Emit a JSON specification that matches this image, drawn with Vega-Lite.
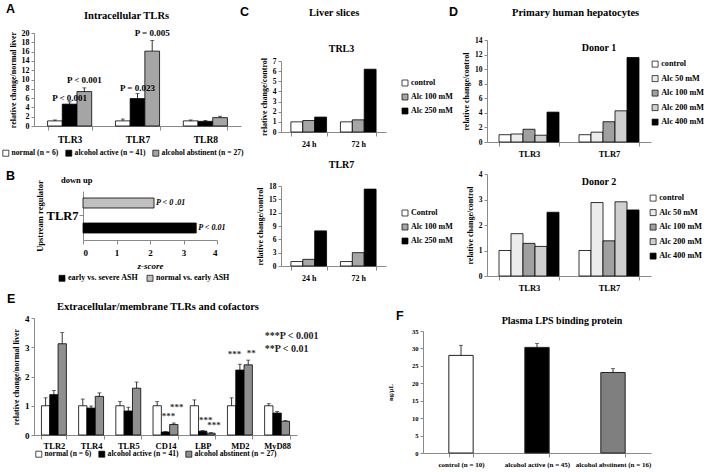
{
  "$schema": "https://vega.github.io/schema/vega-lite/v6.json",
  "background": "white",
  "padding": {"left": 2, "top": 2, "right": 2, "bottom": 2},
  "spacing": 0,
  "resolve": {"scale": {"fill": "independent", "xOffset": "independent", "yOffset": "independent"}, "legend": {"fill": "independent"}},
  "vconcat": [
    {
      "spacing": -4,
      "resolve": {"scale": {"fill": "independent", "xOffset": "independent", "yOffset": "independent"}, "legend": {"fill": "independent"}},
      "hconcat": [
        {
          "spacing": 0,
          "resolve": {"scale": {"fill": "independent", "xOffset": "independent", "yOffset": "independent"}, "legend": {"fill": "independent"}},
          "vconcat": [
            {"width": 1, "height": 1, "data": {"values": []}, "mark": "point"},
            {
              "spacing": 11,
              "resolve": {"scale": {"fill": "independent", "xOffset": "independent", "yOffset": "independent"}, "legend": {"fill": "independent"}},
              "vconcat": [
                {
                  "title": {"text": "A", "anchor": "start", "frame": "group", "dx": -28, "font": "Liberation Sans", "fontSize": 12.5, "fontWeight": "bold", "offset": -5},
                  "resolve": {"scale": {"fill": "independent", "xOffset": "independent", "yOffset": "independent"}, "legend": {"fill": "independent"}},
                  "vconcat": [
                    {
                      "width": 207, "height": 93,
                      "title": {"text": "Intracellular TLRs", "fontSize": 10.5, "offset": 8, "frame": "group", "dx": -11},
                      "data": {"values": [
                        {"gene": "TLR3", "grp": "normal (n = 6)", "v": 1.1, "e": 1.3},
                        {"gene": "TLR3", "grp": "alcohol active (n = 41)", "v": 4.7, "e": 5.2},
                        {"gene": "TLR3", "grp": "alcohol abstinent (n = 27)", "v": 7.4, "e": 8.2},
                        {"gene": "TLR7", "grp": "normal (n = 6)", "v": 1.1, "e": 1.5},
                        {"gene": "TLR7", "grp": "alcohol active (n = 41)", "v": 5.9, "e": 7.0},
                        {"gene": "TLR7", "grp": "alcohol abstinent (n = 27)", "v": 16.1, "e": 18.4},
                        {"gene": "TLR8", "grp": "normal (n = 6)", "v": 1.1, "e": 1.3},
                        {"gene": "TLR8", "grp": "alcohol active (n = 41)", "v": 1.0, "e": 1.2},
                        {"gene": "TLR8", "grp": "alcohol abstinent (n = 27)", "v": 1.8, "e": 2.1}
                      ]},
                      "encoding": {
                        "x": {"field": "gene", "type": "nominal", "sort": null, "title": null, "scale": {"paddingInner": 0.35, "paddingOuter": 0.2}, "axis": {"labelFontSize": 9.5, "labelPadding": 4}},
                        "xOffset": {"field": "grp", "type": "nominal", "scale": {"domain": ["normal (n = 6)", "alcohol active (n = 41)", "alcohol abstinent (n = 27)"]}}
                      },
                      "layer": [
                        {
                          "mark": {"type": "bar", "stroke": "black", "strokeWidth": 0.8},
                          "encoding": {
                            "y": {"field": "v", "type": "quantitative", "scale": {"domain": [0, 20]}, "axis": {"values": [0, 2, 4, 6, 8, 10, 12, 14, 16, 18, 20], "title": "relative change/normal liver"}},
                            "fill": {"field": "grp", "type": "nominal", "scale": {"domain": ["normal (n = 6)", "alcohol active (n = 41)", "alcohol abstinent (n = 27)"], "range": ["white", "black", "#a5a5a5"]},
                              "legend": {"title": null, "orient": "none", "legendX": -32, "legendY": 116, "direction": "horizontal", "columns": 3, "columnPadding": 5, "labelOffset": 2, "labelFontSize": 7.6}}
                          }
                        },
                        {"mark": {"type": "rule", "color": "black", "strokeWidth": 0.8}, "encoding": {"y": {"field": "v", "type": "quantitative", "scale": {"domain": [0, 20]}, "axis": {"values": [0, 2, 4, 6, 8, 10, 12, 14, 16, 18, 20], "title": "relative change/normal liver"}}, "y2": {"field": "e"}}},
                        {"mark": {"type": "tick", "orient": "horizontal", "color": "black", "size": 4, "thickness": 0.8}, "encoding": {"y": {"field": "e", "type": "quantitative", "scale": {"domain": [0, 20]}, "axis": {"values": [0, 2, 4, 6, 8, 10, 12, 14, 16, 18, 20], "title": "relative change/normal liver"}}}},
                        {
                          "data": {"values": [
                            {"gene": "TLR3", "grp": "alcohol active (n = 41)", "ly": 6.1, "t": "P < 0.001"},
                            {"gene": "TLR3", "grp": "alcohol abstinent (n = 27)", "ly": 9.9, "t": "P < 0.001"},
                            {"gene": "TLR7", "grp": "alcohol active (n = 41)", "ly": 8.2, "t": "P = 0.023"},
                            {"gene": "TLR7", "grp": "alcohol abstinent (n = 27)", "ly": 19.9, "t": "P = 0.005"}
                          ]},
                          "mark": {"type": "text", "fontSize": 9, "fontWeight": "bold", "font": "Liberation Serif", "baseline": "middle"},
                          "encoding": {"y": {"field": "ly", "type": "quantitative", "scale": {"domain": [0, 20]}, "axis": {"values": [0, 2, 4, 6, 8, 10, 12, 14, 16, 18, 20], "title": "relative change/normal liver"}}, "text": {"field": "t"}}
                        }
                      ]
                    }
                  ]
                },
                {
                  "title": {"text": "B", "anchor": "start", "frame": "group", "dx": -28, "font": "Liberation Sans", "fontSize": 12.5, "fontWeight": "bold", "offset": -6},
                  "spacing": 0,
                  "resolve": {"scale": {"fill": "independent", "xOffset": "independent", "yOffset": "independent"}, "legend": {"fill": "independent"}},
                  "hconcat": [
                    {"width": 1, "height": 1, "data": {"values": []}, "mark": "point"},
                    {
                      "width": 134, "height": 49,
                      "title": {"text": "down    up", "anchor": "start", "frame": "group", "dx": -22, "fontSize": 8.5, "offset": -5},
                      "data": {"values": [
                        {"reg": "TLR7", "cmp": "normal vs. early ASH", "z": 2.12, "p": "P < 0 .01"},
                        {"reg": "TLR7", "cmp": "early vs. severe ASH", "z": 3.38, "p": "P < 0.01"}
                      ]},
                      "encoding": {
                        "y": {"field": "reg", "type": "nominal", "title": "Upstream regulator", "scale": {"paddingInner": 0, "paddingOuter": 0}, "axis": {"labelFontSize": 12.5, "tickBand": "center", "labelPadding": 1, "titlePadding": 2, "titleFontSize": 8.5}},
                        "yOffset": {"field": "cmp", "type": "nominal", "scale": {"domain": ["normal vs. early ASH", "early vs. severe ASH"], "paddingInner": 0.6, "paddingOuter": 0.28}},
                        "x": {"field": "z", "type": "quantitative", "scale": {"domain": [0, 4]}, "axis": {"values": [0, 1, 2, 3, 4], "title": "z-score", "titleFontStyle": "italic", "titleFontSize": 9, "labelFontSize": 9, "tickSize": 4, "labelPadding": 4}}
                      },
                      "layer": [
                        {
                          "mark": {"type": "bar", "stroke": "black", "strokeWidth": 0.8},
                          "encoding": {"fill": {"field": "cmp", "type": "nominal", "scale": {"domain": ["early vs. severe ASH", "normal vs. early ASH"], "range": ["black", "#c0c0c0"]},
                            "legend": {"title": null, "orient": "none", "legendX": -25, "legendY": 83, "direction": "horizontal", "columns": 2, "columnPadding": 6, "labelOffset": 2, "labelFontSize": 8}}}
                        },
                        {"mark": {"type": "text", "align": "left", "dx": 2, "fontSize": 8, "fontStyle": "italic", "fontWeight": "bold", "font": "Liberation Serif", "baseline": "middle"}, "encoding": {"text": {"field": "p"}}}
                      ]
                    }
                  ]
                }
              ]
            }
          ]
        },
        {
          "spacing": 3,
          "resolve": {"scale": {"fill": "independent", "xOffset": "independent", "yOffset": "independent"}, "legend": {"fill": "independent"}},
          "vconcat": [
            {"width": 1, "height": 1, "data": {"values": []}, "mark": "point"},
            {
              "title": {"text": "C", "anchor": "start", "frame": "group", "dx": -41, "font": "Liberation Sans", "fontSize": 12.5, "fontWeight": "bold", "offset": -11},
              "resolve": {"scale": {"fill": "independent", "xOffset": "independent", "yOffset": "independent"}, "legend": {"fill": "independent"}},
              "vconcat": [
                {
                  "title": {"text": "Liver slices", "anchor": "start", "frame": "group", "dx": 28, "fontSize": 10.5, "offset": 26},
                  "spacing": 12,
                  "resolve": {"scale": {"fill": "independent", "xOffset": "independent", "yOffset": "independent"}, "legend": {"fill": "independent"}},
                  "vconcat": [
                    {
                      "width": 105, "height": 71,
                      "title": {"text": "TRL3", "fontSize": 10, "offset": 3, "frame": "group", "dx": 8},
                      "data": {"values": [
                        {"t": "24 h", "trt": "control", "v": 1.0},
                        {"t": "24 h", "trt": "Alc 100 mM", "v": 1.13},
                        {"t": "24 h", "trt": "Alc 250 mM", "v": 1.47},
                        {"t": "72 h", "trt": "control", "v": 1.0},
                        {"t": "72 h", "trt": "Alc 100 mM", "v": 1.2},
                        {"t": "72 h", "trt": "Alc 250 mM", "v": 6.19}
                      ]},
                      "mark": {"type": "bar", "stroke": "black", "strokeWidth": 0.8},
                      "encoding": {
                        "x": {"field": "t", "type": "nominal", "sort": null, "title": null, "scale": {"paddingInner": 0.28, "paddingOuter": 0.2}, "axis": {"labelFontSize": 8, "labelPadding": 4}},
                        "xOffset": {"field": "trt", "type": "nominal", "scale": {"domain": ["control", "Alc 100 mM", "Alc 250 mM"]}},
                        "y": {"field": "v", "type": "quantitative", "scale": {"domain": [0, 7]}, "axis": {"values": [0, 1, 2, 3, 4, 5, 6, 7], "title": "relative change/control", "labelFontSize": 7.5}},
                        "fill": {"field": "trt", "type": "nominal", "scale": {"domain": ["control", "Alc 100 mM", "Alc 250 mM"], "range": ["white", "#a6a6a6", "black"]},
                          "legend": {"title": null, "orient": "none", "legendX": 120, "legendY": 18, "rowPadding": 4, "labelFontSize": 8, "labelOffset": 2}}
                      }
                    },
                    {
                      "width": 105, "height": 80,
                      "title": {"text": "TLR7", "fontSize": 10, "offset": 12, "frame": "group", "dx": 8},
                      "data": {"values": [
                        {"t": "24 h", "trt2": "Control", "v": 1.0},
                        {"t": "24 h", "trt2": "Alc 100 mM", "v": 1.5},
                        {"t": "24 h", "trt2": "Alc 250 mM", "v": 7.9},
                        {"t": "72 h", "trt2": "Control", "v": 1.0},
                        {"t": "72 h", "trt2": "Alc 100 mM", "v": 3.0},
                        {"t": "72 h", "trt2": "Alc 250 mM", "v": 17.3}
                      ]},
                      "mark": {"type": "bar", "stroke": "black", "strokeWidth": 0.8},
                      "encoding": {
                        "x": {"field": "t", "type": "nominal", "sort": null, "title": null, "scale": {"paddingInner": 0.28, "paddingOuter": 0.2}, "axis": {"labelFontSize": 8, "labelPadding": 4}},
                        "xOffset": {"field": "trt2", "type": "nominal", "scale": {"domain": ["Control", "Alc 100 mM", "Alc 250 mM"]}},
                        "y": {"field": "v", "type": "quantitative", "scale": {"domain": [0, 18]}, "axis": {"values": [0, 3, 6, 9, 12, 15, 18], "title": "relative change/control", "labelFontSize": 7.5}},
                        "fill": {"field": "trt2", "type": "nominal", "scale": {"domain": ["Control", "Alc 100 mM", "Alc 250 mM"], "range": ["white", "#a6a6a6", "black"]},
                          "legend": {"title": null, "orient": "none", "legendX": 120, "legendY": 23, "rowPadding": 4, "labelFontSize": 8, "labelOffset": 2}}
                      }
                    }
                  ]
                }
              ]
            }
          ]
        },
        {
          "spacing": 3,
          "resolve": {"scale": {"fill": "independent", "xOffset": "independent", "yOffset": "independent"}, "legend": {"fill": "independent"}},
          "vconcat": [
            {"width": 1, "height": 1, "data": {"values": []}, "mark": "point"},
            {
              "title": {"text": "D", "anchor": "start", "frame": "group", "dx": -38, "font": "Liberation Sans", "fontSize": 12.5, "fontWeight": "bold", "offset": -11},
              "resolve": {"scale": {"fill": "independent", "xOffset": "independent", "yOffset": "independent"}, "legend": {"fill": "independent"}},
              "vconcat": [
                {
                  "title": {"text": "Primary human hepatocytes", "anchor": "start", "frame": "group", "dx": 25, "fontSize": 10.5, "offset": 18},
                  "spacing": 12,
                  "resolve": {"scale": {"fill": "independent", "xOffset": "independent", "yOffset": "independent"}, "legend": {"fill": "independent"}},
                  "vconcat": [
                    {
                      "width": 164, "height": 102,
                      "title": {"text": "Donor 1", "fontSize": 10, "offset": -17, "frame": "group", "dx": 30},
                      "data": {"values": [
                        {"g": "TLR3", "d": "control", "v": 1.0},
                        {"g": "TLR3", "d": "Alc 50 mM", "v": 1.1},
                        {"g": "TLR3", "d": "Alc 100 mM", "v": 1.75},
                        {"g": "TLR3", "d": "Alc 200 mM", "v": 0.93},
                        {"g": "TLR3", "d": "Alc 400 mM", "v": 4.1},
                        {"g": "TLR7", "d": "control", "v": 1.0},
                        {"g": "TLR7", "d": "Alc 50 mM", "v": 1.35},
                        {"g": "TLR7", "d": "Alc 100 mM", "v": 2.78},
                        {"g": "TLR7", "d": "Alc 200 mM", "v": 4.28},
                        {"g": "TLR7", "d": "Alc 400 mM", "v": 11.6}
                      ]},
                      "mark": {"type": "bar", "stroke": "black", "strokeWidth": 0.8},
                      "encoding": {
                        "x": {"field": "g", "type": "nominal", "sort": null, "title": null, "scale": {"paddingInner": 0.25, "paddingOuter": 0.15}, "axis": {"labelFontSize": 8.5, "labelPadding": 3}},
                        "xOffset": {"field": "d", "type": "nominal", "scale": {"domain": ["control", "Alc 50 mM", "Alc 100 mM", "Alc 200 mM", "Alc 400 mM"]}},
                        "y": {"field": "v", "type": "quantitative", "scale": {"domain": [0, 14]}, "axis": {"values": [0, 2, 4, 6, 8, 10, 12, 14], "title": "relative change/control", "labelFontSize": 7.5, "titlePadding": 4}},
                        "fill": {"field": "d", "type": "nominal", "scale": {"domain": ["control", "Alc 50 mM", "Alc 100 mM", "Alc 200 mM", "Alc 400 mM"], "range": ["white", "#ececec", "#a0a0a0", "#cfcfcf", "black"]},
                          "legend": {"title": null, "orient": "none", "legendX": 164, "legendY": 20, "rowPadding": 4.5, "labelFontSize": 8.2, "labelOffset": 2}}
                      }
                    },
                    {
                      "width": 164, "height": 102,
                      "title": {"text": "Donor 2", "fontSize": 10, "offset": -17, "frame": "group", "dx": 30},
                      "data": {"values": [
                        {"g": "TLR3", "d2": "control", "v": 1.0},
                        {"g": "TLR3", "d2": "Alc 50 mM", "v": 1.66},
                        {"g": "TLR3", "d2": "Alc 100 mM", "v": 1.28},
                        {"g": "TLR3", "d2": "Alc 200 mM", "v": 1.16},
                        {"g": "TLR3", "d2": "Alc 400 mM", "v": 2.5},
                        {"g": "TLR7", "d2": "control", "v": 1.0},
                        {"g": "TLR7", "d2": "Alc 50 mM", "v": 2.88},
                        {"g": "TLR7", "d2": "Alc 100 mM", "v": 1.38},
                        {"g": "TLR7", "d2": "Alc 200 mM", "v": 2.91},
                        {"g": "TLR7", "d2": "Alc 400 mM", "v": 2.59}
                      ]},
                      "mark": {"type": "bar", "stroke": "black", "strokeWidth": 0.8},
                      "encoding": {
                        "x": {"field": "g", "type": "nominal", "sort": null, "title": null, "scale": {"paddingInner": 0.25, "paddingOuter": 0.15}, "axis": {"labelFontSize": 8.5, "labelPadding": 3}},
                        "xOffset": {"field": "d2", "type": "nominal", "scale": {"domain": ["control", "Alc 50 mM", "Alc 100 mM", "Alc 200 mM", "Alc 400 mM"]}},
                        "y": {"field": "v", "type": "quantitative", "scale": {"domain": [0, 4]}, "axis": {"values": [0, 1, 2, 3, 4], "title": "relative change/control", "labelFontSize": 7.5, "titlePadding": 4}},
                        "fill": {"field": "d2", "type": "nominal", "scale": {"domain": ["control", "Alc 50 mM", "Alc 100 mM", "Alc 200 mM", "Alc 400 mM"], "range": ["white", "#ececec", "#a0a0a0", "#cfcfcf", "black"]},
                          "legend": {"title": null, "orient": "none", "legendX": 162, "legendY": 20, "rowPadding": 4.5, "labelFontSize": 8.2, "labelOffset": 2}}
                      }
                    }
                  ]
                }
              ]
            }
          ]
        }
      ]
    },
    {
      "spacing": 68,
      "resolve": {"scale": {"fill": "independent", "xOffset": "independent", "yOffset": "independent"}, "legend": {"fill": "independent"}},
      "hconcat": [
        {
          "spacing": 0,
          "resolve": {"scale": {"fill": "independent", "xOffset": "independent", "yOffset": "independent"}, "legend": {"fill": "independent"}},
          "vconcat": [
            {"width": 1, "height": 1, "data": {"values": []}, "mark": "point"},
            {
              "title": {"text": "E", "anchor": "start", "frame": "group", "dx": -27, "font": "Liberation Sans", "fontSize": 12.5, "fontWeight": "bold", "offset": -4},
              "resolve": {"scale": {"fill": "independent", "xOffset": "independent", "yOffset": "independent"}, "legend": {"fill": "independent"}},
              "vconcat": [
                {
                  "width": 263, "height": 117,
                  "title": {"text": "Extracellular/membrane TLRs and cofactors", "anchor": "start", "frame": "group", "dx": 23, "fontSize": 10.5, "offset": 2},
                  "data": {"values": [
                    {"gene": "TLR2", "grp": "normal (n = 6)", "v": 1.0, "e": 1.27},
                    {"gene": "TLR2", "grp": "alcohol active (n = 41)", "v": 1.38, "e": 1.52},
                    {"gene": "TLR2", "grp": "alcohol abstinent (n = 27)", "v": 3.12, "e": 3.5},
                    {"gene": "TLR4", "grp": "normal (n = 6)", "v": 1.0, "e": 1.23},
                    {"gene": "TLR4", "grp": "alcohol active (n = 41)", "v": 0.92, "e": 0.99},
                    {"gene": "TLR4", "grp": "alcohol abstinent (n = 27)", "v": 1.32, "e": 1.44},
                    {"gene": "TLR5", "grp": "normal (n = 6)", "v": 1.0, "e": 1.14},
                    {"gene": "TLR5", "grp": "alcohol active (n = 41)", "v": 0.82, "e": 0.95},
                    {"gene": "TLR5", "grp": "alcohol abstinent (n = 27)", "v": 1.6, "e": 1.81},
                    {"gene": "CD14", "grp": "normal (n = 6)", "v": 1.0, "e": 1.14},
                    {"gene": "CD14", "grp": "alcohol active (n = 41)", "v": 0.1, "e": 0.12},
                    {"gene": "CD14", "grp": "alcohol abstinent (n = 27)", "v": 0.36, "e": 0.41},
                    {"gene": "LBP", "grp": "normal (n = 6)", "v": 1.0, "e": 1.2},
                    {"gene": "LBP", "grp": "alcohol active (n = 41)", "v": 0.13, "e": 0.15},
                    {"gene": "LBP", "grp": "alcohol abstinent (n = 27)", "v": 0.06, "e": 0.08},
                    {"gene": "MD2", "grp": "normal (n = 6)", "v": 1.0, "e": 1.27},
                    {"gene": "MD2", "grp": "alcohol active (n = 41)", "v": 2.22, "e": 2.42},
                    {"gene": "MD2", "grp": "alcohol abstinent (n = 27)", "v": 2.4, "e": 2.56},
                    {"gene": "MyD88", "grp": "normal (n = 6)", "v": 1.0, "e": 1.07},
                    {"gene": "MyD88", "grp": "alcohol active (n = 41)", "v": 0.75, "e": 0.8},
                    {"gene": "MyD88", "grp": "alcohol abstinent (n = 27)", "v": 0.47, "e": 0.5}
                  ]},
                  "encoding": {
                    "x": {"field": "gene", "type": "nominal", "sort": null, "title": null, "scale": {"paddingInner": 0.33, "paddingOuter": 0.2}, "axis": {"labelFontSize": 8.5, "labelPadding": 2}},
                    "xOffset": {"field": "grp", "type": "nominal", "scale": {"domain": ["normal (n = 6)", "alcohol active (n = 41)", "alcohol abstinent (n = 27)"]}}
                  },
                  "layer": [
                    {
                      "mark": {"type": "bar", "stroke": "black", "strokeWidth": 0.8},
                      "encoding": {
                        "y": {"field": "v", "type": "quantitative", "scale": {"domain": [0, 4]}, "axis": {"values": [0, 1, 2, 3, 4], "title": "relative change/normal liver", "labelFontSize": 9}},
                        "fill": {"field": "grp", "type": "nominal", "scale": {"domain": ["normal (n = 6)", "alcohol active (n = 41)", "alcohol abstinent (n = 27)"], "range": ["white", "black", "#8f8f8f"]},
                          "legend": {"title": null, "orient": "none", "legendX": 1, "legendY": 132, "direction": "horizontal", "columns": 3, "columnPadding": 5, "labelOffset": 2, "labelFontSize": 7.6}}
                      }
                    },
                    {"mark": {"type": "rule", "color": "black", "strokeWidth": 0.8}, "encoding": {"y": {"field": "v", "type": "quantitative", "scale": {"domain": [0, 4]}, "axis": {"values": [0, 1, 2, 3, 4], "title": "relative change/normal liver", "labelFontSize": 9}}, "y2": {"field": "e"}}},
                    {"mark": {"type": "tick", "orient": "horizontal", "color": "black", "size": 4, "thickness": 0.8}, "encoding": {"y": {"field": "e", "type": "quantitative", "scale": {"domain": [0, 4]}, "axis": {"values": [0, 1, 2, 3, 4], "title": "relative change/normal liver", "labelFontSize": 9}}}},
                    {
                      "data": {"values": [
                        {"gene": "CD14", "grp": "alcohol active (n = 41)", "ly": 0.64, "t": "***"},
                        {"gene": "CD14", "grp": "alcohol abstinent (n = 27)", "ly": 0.95, "t": "***"},
                        {"gene": "LBP", "grp": "alcohol active (n = 41)", "ly": 0.5, "t": "***"},
                        {"gene": "LBP", "grp": "alcohol abstinent (n = 27)", "ly": 0.33, "t": "***"},
                        {"gene": "MD2", "grp": "normal (n = 6)", "ly": 2.76, "t": "***"},
                        {"gene": "MD2", "grp": "alcohol abstinent (n = 27)", "ly": 2.82, "t": "**"}
                      ]},
                      "mark": {"type": "text", "fontSize": 9, "color": "#333", "font": "Liberation Serif", "fontWeight": "bold", "dx": 3},
                      "encoding": {"y": {"field": "ly", "type": "quantitative", "scale": {"domain": [0, 4]}, "axis": {"values": [0, 1, 2, 3, 4], "title": "relative change/normal liver", "labelFontSize": 9}}, "text": {"field": "t"}}
                    },
                    {
                      "data": {"values": [
                        {"gene": "MyD88", "ly": 3.38, "t": "***P < 0.001"},
                        {"gene": "MyD88", "ly": 2.95, "t": "**P < 0.01"}
                      ]},
                      "mark": {"type": "text", "fontSize": 10, "align": "left", "dx": 0, "font": "Liberation Serif", "fontWeight": "bold", "color": "#222", "baseline": "middle"},
                      "encoding": {"y": {"field": "ly", "type": "quantitative", "scale": {"domain": [0, 4]}, "axis": {"values": [0, 1, 2, 3, 4], "title": "relative change/normal liver", "labelFontSize": 9}}, "text": {"field": "t"}, "xOffset": {"value": 0}}
                    }
                  ]
                }
              ]
            }
          ]
        },
        {
          "spacing": 16,
          "resolve": {"scale": {"fill": "independent", "xOffset": "independent", "yOffset": "independent"}, "legend": {"fill": "independent"}},
          "vconcat": [
            {"width": 1, "height": 1, "data": {"values": []}, "mark": "point"},
            {
              "title": {"text": "F", "anchor": "start", "frame": "group", "dx": -27, "font": "Liberation Sans", "fontSize": 12.5, "fontWeight": "bold", "offset": -6},
              "resolve": {"scale": {"fill": "independent", "xOffset": "independent", "yOffset": "independent"}, "legend": {"fill": "independent"}},
              "vconcat": [
                {
                  "width": 228, "height": 122,
                  "title": {"text": "Plasma LPS binding protein", "fontSize": 10, "dx": 25, "offset": 2, "frame": "group"},
                  "data": {"values": [
                    {"g": "control (n = 10)", "v": 28.0, "e": 30.9},
                    {"g": "alcohol active (n = 45)", "v": 30.3, "e": 31.4},
                    {"g": "alcohol abstinent (n = 16)", "v": 23.1, "e": 24.2}
                  ]},
                  "encoding": {
                    "x": {"field": "g", "type": "nominal", "sort": null, "title": null, "scale": {"paddingInner": 0.68, "paddingOuter": 0.34}, "axis": {"labelFontSize": 7, "labelPadding": 3}}
                  },
                  "layer": [
                    {
                      "mark": {"type": "bar", "stroke": "#222", "strokeWidth": 1},
                      "encoding": {
                        "y": {"field": "v", "type": "quantitative", "scale": {"domain": [0, 35]}, "axis": {"values": [0, 5, 10, 15, 20, 25, 30, 35], "title": "ng/µL", "labelFontSize": 6.5, "titleFontSize": 6.5, "titlePadding": 18}},
                        "fill": {"field": "g", "type": "nominal", "scale": {"domain": ["control (n = 10)", "alcohol active (n = 45)", "alcohol abstinent (n = 16)"], "range": ["white", "black", "#7f7f7f"]}, "legend": null}
                      }
                    },
                    {"mark": {"type": "rule", "color": "black", "strokeWidth": 0.8}, "encoding": {"y": {"field": "v", "type": "quantitative", "scale": {"domain": [0, 35]}, "axis": {"values": [0, 5, 10, 15, 20, 25, 30, 35], "title": "ng/µL", "labelFontSize": 6.5, "titleFontSize": 6.5, "titlePadding": 18}}, "y2": {"field": "e"}}},
                    {"mark": {"type": "tick", "orient": "horizontal", "color": "black", "size": 4, "thickness": 0.8}, "encoding": {"y": {"field": "e", "type": "quantitative", "scale": {"domain": [0, 35]}, "axis": {"values": [0, 5, 10, 15, 20, 25, 30, 35], "title": "ng/µL", "labelFontSize": 6.5, "titleFontSize": 6.5, "titlePadding": 18}}}}
                  ]
                }
              ]
            }
          ]
        }
      ]
    }
  ],
  "config": {
    "font": "Liberation Serif",
    "view": {"stroke": null},
    "axis": {"labelFont": "Liberation Serif", "labelFontWeight": "bold", "labelColor": "black", "labelFontSize": 8, "titleFont": "Liberation Serif", "titleFontWeight": "bold", "titleColor": "black", "titleFontSize": 8, "grid": false, "domainColor": "#8a8a8a", "tickColor": "#8a8a8a", "tickSize": 3},
    "axisBand": {"tickBand": "extent", "labelAngle": 0, "tickSize": 4},
    "title": {"font": "Liberation Serif", "fontWeight": "bold", "fontSize": 10.5, "color": "black"},
    "legend": {"labelFont": "Liberation Serif", "labelFontWeight": "bold", "labelFontSize": 8.5, "labelColor": "black", "symbolType": "square", "symbolStrokeColor": "black", "symbolStrokeWidth": 0.7, "symbolSize": 36},
    "text": {"font": "Liberation Serif", "fontWeight": "bold"}
  }
}
